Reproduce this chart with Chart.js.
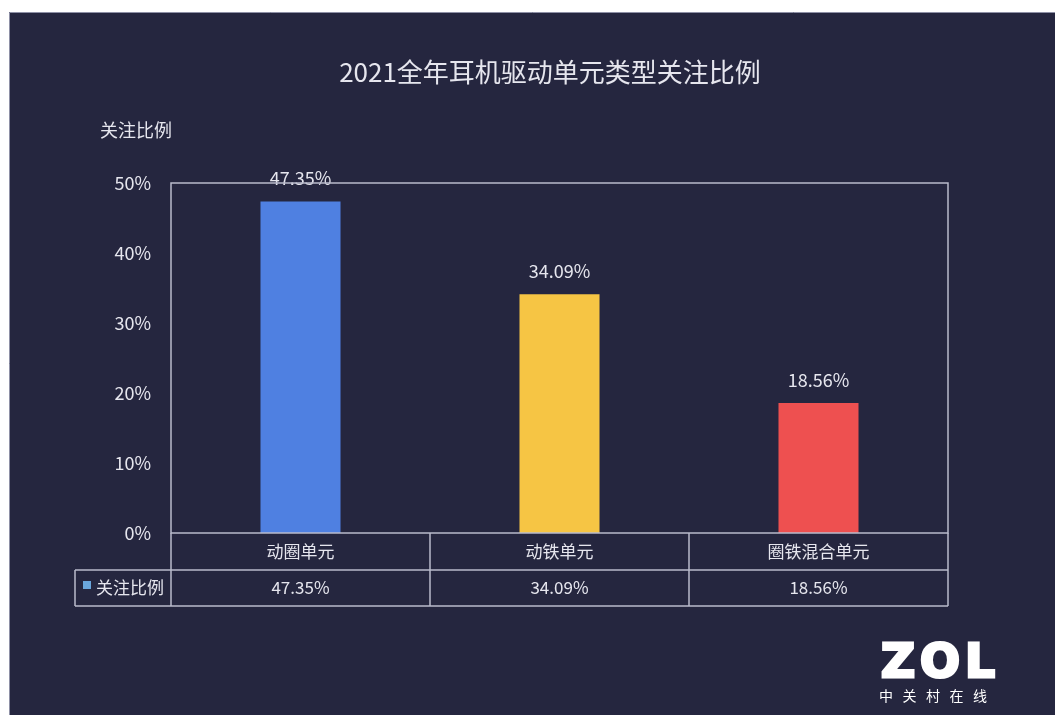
<!DOCTYPE html>
<html>
<head>
<meta charset="utf-8">
<script src="https://cdn.jsdelivr.net/npm/chart.js@4"></script>
<style>
  html, body { margin: 0; padding: 0; background: #ffffff; }
  #wrap { width: 1055px; height: 715px; position: relative; }
</style>
</head>
<body>
<div id="wrap"><canvas id="grafico" width="1055" height="715"></canvas></div>
<script>
// dados do grafico
const categorias = ['动圈单元', '动铁单元', '圈铁混合单元'];
const valores = [47.35, 34.09, 18.56];
const cores = ['#4f80e1', '#f6c544', '#ee5050'];
const nomeSerie = '关注比例';
const ticksY = [0, 10, 20, 30, 40, 50];
const titulo = '2021全年耳机驱动单元类型关注比例';

const fonte = '"Noto Sans CJK SC", "Noto Sans", sans-serif';
const corTexto = '#e6e6ee';
const corLinha = '#b9bbcc';

// fundo escuro + titulo + tabela + logo
const fundo = {
  id: 'fundo',
  beforeDraw(chart) {
    const ctx = chart.ctx;
    ctx.save();
    ctx.fillStyle = '#ffffff';
    ctx.fillRect(0, 0, chart.width, chart.height);
    ctx.fillStyle = '#25263f';
    ctx.fillRect(9, 12, chart.width - 9, chart.height - 12);
    ctx.strokeStyle = '#8e90a6';
    ctx.lineWidth = 1;
    ctx.beginPath();
    ctx.moveTo(9.5, chart.height);
    ctx.lineTo(9.5, 12.5);
    ctx.lineTo(chart.width, 12.5);
    ctx.stroke();
    ctx.restore();
  },
  afterDraw(chart) {
    const ctx = chart.ctx;
    const area = chart.chartArea;
    const x = chart.scales.x;
    ctx.save();

    // titulo
    ctx.fillStyle = corTexto;
    ctx.font = '26px ' + fonte;
    ctx.textAlign = 'center';
    ctx.textBaseline = 'middle';
    ctx.fillText(titulo, 550, 72);

    // titulo do eixo
    ctx.font = '18px ' + fonte;
    ctx.textAlign = 'left';
    ctx.fillText(nomeSerie, 100, 130);

    // moldura da area
    ctx.strokeStyle = corLinha;
    ctx.lineWidth = 1.5;
    ctx.strokeRect(area.left, area.top, area.right - area.left, area.bottom - area.top);

    // tabela
    const linha1 = area.bottom;
    const linha2 = area.bottom + 37;
    const linha3 = area.bottom + 73;
    const esq = 75;
    ctx.beginPath();
    ctx.moveTo(area.left, linha1); ctx.lineTo(area.left, linha3);
    ctx.moveTo(esq, linha2); ctx.lineTo(area.right, linha2);
    ctx.moveTo(esq, linha3); ctx.lineTo(area.right, linha3);
    ctx.moveTo(esq, linha2); ctx.lineTo(esq, linha3);
    for (let i = 0; i < categorias.length; i++) {
      const xd = x.getPixelForValue(i) + (area.right - area.left) / categorias.length / 2;
      ctx.moveTo(xd, linha1); ctx.lineTo(xd, linha3);
    }
    ctx.stroke();

    ctx.fillStyle = corTexto;
    ctx.font = '17px ' + fonte;
    ctx.textAlign = 'center';
    for (let i = 0; i < categorias.length; i++) {
      const xc = x.getPixelForValue(i);
      ctx.fillText(categorias[i], xc, (linha1 + linha2) / 2);
      ctx.fillText(valores[i].toFixed(2) + '%', xc, (linha2 + linha3) / 2);
    }
    // legenda
    ctx.fillStyle = '#6aa6dc';
    ctx.fillRect(83, 581, 8, 8);
    ctx.fillStyle = corTexto;
    ctx.textAlign = 'left';
    ctx.fillText(nomeSerie, 96, (linha2 + linha3) / 2);

    // logo ZOL
    ctx.fillStyle = '#ffffff';
    ctx.strokeStyle = '#ffffff';
    ctx.lineWidth = 3;
    ctx.lineJoin = 'miter';
    ctx.font = 'bold 47px "DejaVu Sans", sans-serif';
    ctx.textAlign = 'left';
    ctx.textBaseline = 'alphabetic';
    const letras = ['Z', 'O', 'L'];
    let lx = 881;
    for (const l of letras) {
      ctx.fillText(l, lx, 677);
      ctx.strokeText(l, lx, 677);
      lx += ctx.measureText(l).width + 5;
    }
    ctx.font = '14px ' + fonte;
    const logo2 = ['中', '关', '村', '在', '线'];
    logo2.forEach((c, i) => {
      ctx.fillText(c, 879 + i * 23.5, 701);
    });

    ctx.restore();
  },
  afterDatasetsDraw(chart) {
    const ctx = chart.ctx;
    const meta = chart.getDatasetMeta(0);
    ctx.save();
    ctx.fillStyle = corTexto;
    ctx.font = '18px ' + fonte;
    ctx.textAlign = 'center';
    ctx.textBaseline = 'middle';
    meta.data.forEach((bar, i) => {
      ctx.fillText(valores[i].toFixed(2) + '%', bar.x, bar.y - 23);
    });
    ctx.restore();
  }
};

const config = {
  type: 'bar',
  data: {
    labels: categorias,
    datasets: [{
      label: nomeSerie,
      data: valores,
      backgroundColor: cores,
      borderWidth: 0,
      categoryPercentage: 1,
      barPercentage: 0.309
    }]
  },
  options: {
    responsive: false,
    animation: false,
    layout: {
      padding: { top: 183, bottom: 182, left: 0, right: 107 }
    },
    plugins: {
      legend: { display: false },
      title: { display: false },
      tooltip: { enabled: false }
    },
    scales: {
      x: {
        display: false,
        grid: { display: false }
      },
      y: {
        min: ticksY[0],
        max: ticksY[ticksY.length - 1],
        afterFit(scale) { scale.width = 171; },
        afterBuildTicks(scale) { scale.ticks = ticksY.map(v => ({ value: v })); },
        grid: { display: false, drawTicks: false },
        border: { display: false },
        ticks: {
          color: corTexto,
          font: { size: 18, family: fonte },
          padding: 20,
          callback: v => v + '%'
        }
      }
    }
  },
  plugins: [fundo]
};

const myChart = new Chart(document.getElementById('grafico'), config);
</script>
</body>
</html>
